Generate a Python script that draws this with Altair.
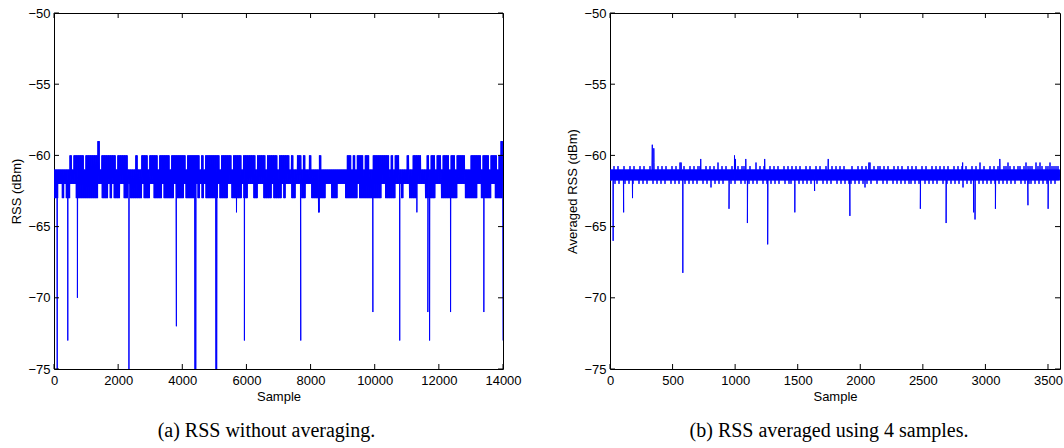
import altair as alt
import pandas as pd

# ---------------- data ----------------
Y_DOMAIN = [-75, -50]
Y_TICKS = [-75, -70, -65, -60, -55, -50]

# panel (a): raw RSS, 0..14000 samples
X_MAX_A = 14000
X_TICKS_A = [0, 2000, 4000, 6000, 8000, 10000, 12000, 14000]
# per column group: upper and lower level reached ("u"=-59, "0"=-60, "1"=-61, "2"=-62, "3"=-63)
LEVELS_A = {"u": -59, "0": -60, "1": -61, "2": -62, "3": -63}
TOP_A = (
    "11111111" "01000001000000" "u" "10000000100000" "1111011"
    "0001000010" "0000100000" "0010000001" "0100000001" "0000010000"
    "1000000100" "0010000010" "000"
    "0101100101101" "11101111111111111"
    "001010001001100000000101001" "111" "011000011" "101"
    "0010010001" "0010000111" "0000010001" "00010u"
)
BOT_A = (
    "3322323322" "2333333333" "3322333232" "3332233233" "3333233322"
    "3333233333" "2333323333" "3232323333" "3323333223" "3333233222"
    "3322233332" "3333232223" "3222332223" "3333332223" "3322223333"
    "3323333333" "3333223333" "3222322233" "3322223333" "3222333333"
    "3322223333" "3322333332" "23333"
)
# isolated deep readings (sample, dBm)
SPIKES_A = [
    (100, -75), (430, -73), (730, -70), (2337, -75), (3816, -72),
    (4395, -75), (4420, -75), (5050, -75), (5072, -75), (5690, -64),
    (5937, -73), (7694, -73), (8250, -64), (8270, -64), (9943, -71),
    (10780, -73), (11315, -64), (11657, -71), (11711, -73), (12365, -71),
    (13403, -71), (14000, -73),
]

# panel (b): averaged RSS, 0..~3596 samples
X_MAX_B = 3596
X_TICKS_B = [0, 500, 1000, 1500, 2000, 2500, 3000, 3500]
# code: index in CODE_B -> -60 - 0.25*index
CODE_B = "0123456789ABCDEFGHIJ"
CORE_B = ("4", "7")  # solid core of the averaged band: -61.0 .. -61.75
TOP_B = (
    "443434434434344" "343443424343434" "434342434434343" "344343434243434"
    "434434334434424" "343443434344343" "434343443434434" "344344343434344"
    "434434343424343" "343434434343443" "434344343443434" "343434434343434"
    "434342434434343" "343323434334323" "334232343323333"
)
BOT_B = (
    "778787787878778" "787877878787877" "878787787878787" "787879787878778"
    "878778787878787" "787878787877878" "878787878787787" "787878778787878"
    "878787898787787" "787877878787878" "878787787878787" "787878787879787"
    "878787878787878" "787878787787878" "878787878787877"
)
SPIKES_B = [
    (25, -66.0), (109, -64.0), (180, -63.0), (338, -59.25), (350, -59.5),
    (568, -60.5), (582, -68.25), (725, -60.25), (951, -63.75), (995, -60.0),
    (1003, -60.25), (1085, -60.25), (1098, -64.75), (1236, -60.25),
    (1260, -66.25), (1477, -64.0), (1635, -62.5), (1744, -60.25),
    (1917, -64.25), (2069, -60.5), (2480, -63.75), (2686, -64.75),
    (2818, -60.5), (2906, -64.0), (2917, -64.5), (3080, -63.75),
    (3115, -60.25), (3340, -63.5), (3501, -63.75),
]

CAPTION_A = "(a) RSS without averaging."
CAPTION_B = "(b) RSS averaged using 4 samples."


def build(pairs, x_max, spikes):
    vals = [v for pair in pairs for v in pair]
    n = len(vals)
    rows = [{"sample": i * x_max / n, "rss": v} for i, v in enumerate(vals)]
    rows += [{"sample": s, "rss": v} for s, v in spikes]
    rows.sort(key=lambda r: r["sample"])
    return pd.DataFrame(rows)


# panel (a): every column group is swept top/bottom three times so the band fills
pairs_a = []
for t, b in zip(TOP_A, BOT_A):
    pairs_a += [(LEVELS_A[t], LEVELS_A[b])] * 3


def dec_b(c):
    return -60 - 0.25 * CODE_B.index(c)


# panel (b): the group's peak and dip fall in different sweeps, core in between
pairs_b = []
for t, b in zip(TOP_B, BOT_B):
    pairs_b += [(dec_b(t), dec_b(CORE_B[1])),
                (dec_b(CORE_B[0]), dec_b(b)),
                (dec_b(CORE_B[0]), dec_b(CORE_B[1]))]

df_a = build(pairs_a, X_MAX_A, SPIKES_A)
df_b = build(pairs_b, X_MAX_B, SPIKES_B)

H = 356
SANS = "Liberation Sans"
SERIF = "Liberation Serif"


def panel(df, x_max, x_ticks, y_title, caption, W, cap_dx):
    xs = alt.Scale(domain=[0, x_max], nice=False, zero=False)
    ys = alt.Scale(domain=Y_DOMAIN, nice=False, zero=False)
    common = dict(ticks=False, domain=False, grid=False, labelFlush=False,
                  labelFont=SANS, labelFontSize=13, labelColor="black",
                  titleFont=SANS, titleFontSize=13, titleFontWeight="normal",
                  titleColor="black")
    x_axis = alt.Axis(values=x_ticks, format="d", title="Sample",
                      labelPadding=5, titleY=31, titleBaseline="alphabetic", **common)
    y_axis = alt.Axis(values=Y_TICKS, format="d", title=y_title,
                      labelPadding=4, titleX=-38, titleY=H / 2,
                      titleBaseline="middle", **common)
    line = alt.Chart(df).mark_line(color="#0000ff", strokeWidth=1, clip=True).encode(
        x=alt.X("sample:Q", scale=xs, axis=x_axis),
        y=alt.Y("rss:Q", scale=ys, axis=y_axis),
    )
    xt = pd.DataFrame({"t": x_ticks})
    yt = pd.DataFrame({"t": Y_TICKS})
    rule = dict(color="black", strokeWidth=1)
    t_top = alt.Chart(xt).mark_rule(**rule).encode(
        x=alt.X("t:Q", scale=xs, axis=x_axis), y=alt.value(0), y2=alt.value(5))
    t_bot = alt.Chart(xt).mark_rule(**rule).encode(
        x=alt.X("t:Q", scale=xs, axis=x_axis), y=alt.value(H), y2=alt.value(H - 5))
    t_left = alt.Chart(yt).mark_rule(**rule).encode(
        y=alt.Y("t:Q", scale=ys, axis=y_axis), x=alt.value(0), x2=alt.value(5))
    t_right = alt.Chart(yt).mark_rule(**rule).encode(
        y=alt.Y("t:Q", scale=ys, axis=y_axis), x=alt.value(W), x2=alt.value(W - 5))
    return alt.layer(line, t_top, t_bot, t_left, t_right).properties(
        width=W, height=H,
        title=alt.TitleParams(caption, orient="bottom", anchor="middle", frame="group",
                              font=SERIF, fontSize=20, fontWeight="normal",
                              color="black", offset=18, dx=cap_dx),
    )


left = panel(df_a, X_MAX_A, X_TICKS_A, "RSS (dBm)", CAPTION_A, 449, -12)
right = panel(df_b, X_MAX_B, X_TICKS_B, "Averaged RSS (dBm)", CAPTION_B, 450, -6)

chart = alt.hconcat(left, right, spacing=107, bounds="flush").properties(
    padding={"left": 9, "top": 6, "right": 0, "bottom": 0},
    background="white",
).configure_view(stroke="black", strokeWidth=1)

chart.save("out.html", embed_options={"renderer": "svg", "actions": False})
